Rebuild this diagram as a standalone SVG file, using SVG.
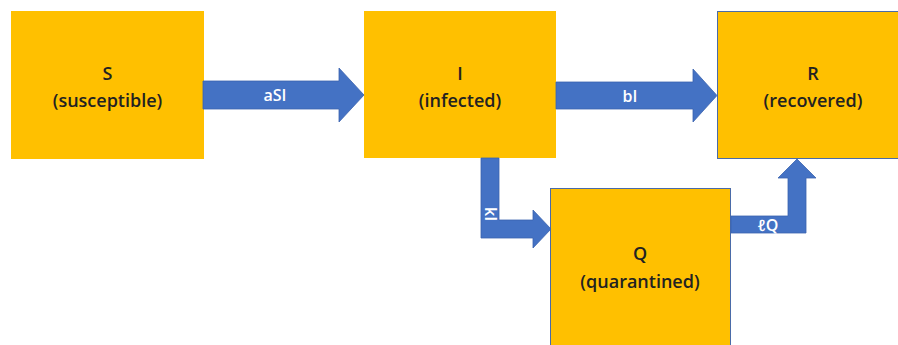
<svg xmlns="http://www.w3.org/2000/svg" width="898" height="345" viewBox="0 0 898 345">
<style>
.box{fill:#FFC000}
.boxo{fill:#FFC000;stroke:#4A6BA8;stroke-width:1}
.t{font-family:"Open Sans","Liberation Sans",sans-serif;font-size:18px;font-weight:600;fill:#222;text-anchor:middle}
.arr{fill:#4472C4;stroke:#3B63AE;stroke-width:0.8}
.l{font-family:"Open Sans","Liberation Sans",sans-serif;font-size:16px;font-weight:600;fill:#fff;text-anchor:middle}
</style>
<rect width="898" height="345" fill="#fff"/>
<g id="S"><rect class="box" x="11" y="11" width="193" height="148"/><text class="t" x="107.5" y="80">S</text><text class="t" x="107.5" y="107">(susceptible)</text></g>
<g id="I"><rect class="box" x="364" y="11" width="192" height="147"/><text class="t" x="460" y="80">I</text><text class="t" x="460" y="107">(infected)</text></g>
<g id="R"><rect class="boxo" x="717.5" y="11.5" width="195" height="147"/><text class="t" x="813" y="80">R</text><text class="t" x="813" y="107">(recovered)</text></g>
<g id="Q"><rect class="boxo" x="550.5" y="188.5" width="180" height="170"/><text class="t" x="640" y="260">Q</text><text class="t" x="640" y="288">(quarantined)</text></g>
<g id="connectors">
<path class="arr" d="M203,81 H339 V68 L364,95 L339,122 V109 H203 Z"/>
<text class="l" x="275" y="101">aSI</text>
<path class="arr" d="M556,82 H693 V69 L717,95.5 L693,122 V109 H556 Z"/>
<text class="l" x="630" y="102">bI</text>
<path class="arr" d="M481,158 H499 V220 H533 V210 L551,229 L533,248 V238 H481 Z"/>
<text class="l" transform="translate(485,214) rotate(90)" x="0" y="0">kI</text>
<path class="arr" d="M731,216 H788 V178 H778 L797,159 L816,178 H806 V233 H731 Z"/>
<text class="l" x="768" y="231">ℓQ</text>
</g>
</svg>
